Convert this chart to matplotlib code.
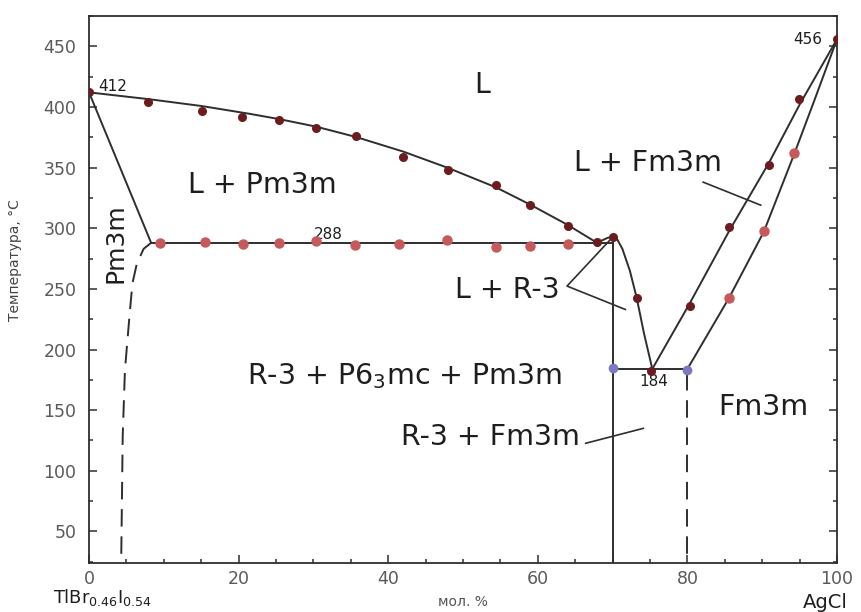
import matplotlib
matplotlib.use("Agg")
import matplotlib.pyplot as plt
from matplotlib.ticker import MultipleLocator, FuncFormatter

plt.rcParams['font.family'] = ['DejaVu Sans']

# experimental points (mol. % AgCl, temperature C)
liq_x = [0, 7.85, 15.1, 20.5, 25.4, 30.4, 35.7, 42.0, 48.0, 54.4, 59.0, 64.0, 67.9, 70.0, 73.2, 75.1]
liq_t = [412, 404, 396.5, 392, 389.6, 383, 376, 358.6, 348, 335.5, 319.5, 301.7, 288.3, 293, 242.5, 182]
fm_liq_x = [80.3, 85.6, 90.9, 94.9, 100]
fm_liq_t = [236, 300.6, 352, 406.6, 456]
eut_x = [9.5, 15.5, 20.6, 25.4, 30.3, 35.6, 41.5, 47.9, 54.4, 58.9, 64.0]
eut_t = [287.5, 288.5, 287, 288, 289.4, 286, 286.7, 290, 284.7, 285.5, 286.7]
fm_sol_x = [85.6, 90.2, 94.2]
fm_sol_t = [242.7, 298, 362]
blue_x = [70, 80]
blue_t = [184.5, 183.5]

# phase boundary curves
l_curve_x = [0, 8, 15, 21.5, 25.4, 30.4, 35.7, 42, 48, 54.4, 59, 64, 67.9]
l_curve_t = [412, 406.4, 400.8, 394.3, 390, 383.7, 375.2, 363.2, 349.7, 333.7, 319.4, 302.7, 288]
r3_curve_x = [67.9, 69.3, 70, 70.6, 71.3, 72.3, 73.2, 74.2, 75.3]
r3_curve_t = [288, 292, 293, 291, 283, 265, 243, 213, 184]
fm_liq_curve_x = [75.3, 80.3, 85.6, 90.9, 95, 100]
fm_liq_curve_t = [184, 238, 298, 354, 402, 456]
fm_sol_curve_x = [80, 85.6, 90.2, 94.2, 97, 100]
fm_sol_curve_t = [184, 243, 297, 360, 406, 456]
pm_sol_x = [0, 8.3]
pm_sol_t = [412, 288]
pm_solvus_x = [8.3, 7.3, 6.4, 5.8, 5.4, 4.8, 4.5, 4.3]
pm_solvus_t = [288, 283, 271, 254.5, 227, 183, 128, 25]
eut_line_x = [8.3, 70]
eut_line_t = [288, 288]
low_line_x = [70, 80]
low_line_t = [184, 184]

x_ticks = [0, 20, 40, 60, 80, 100]
y_ticks = [50, 100, 150, 200, 250, 300, 350, 400, 450]

dark = '#6b1c1e'
pink = '#c45a5c'
blue = '#7d78c2'
line_c = '#2e2e2e'

fig = plt.figure(figsize=(8.61, 6.12), dpi=100)
ax = fig.add_axes([0.1034, 0.0801, 0.8688, 0.8938])

lw = 1.4
ax.plot(l_curve_x, l_curve_t, color=line_c, lw=lw)
ax.plot(r3_curve_x, r3_curve_t, color=line_c, lw=lw)
ax.plot(fm_liq_curve_x, fm_liq_curve_t, color=line_c, lw=lw)
ax.plot(fm_sol_curve_x, fm_sol_curve_t, color=line_c, lw=lw)
ax.plot(pm_sol_x, pm_sol_t, color=line_c, lw=lw)
ax.plot(eut_line_x, eut_line_t, color=line_c, lw=lw)
ax.plot(low_line_x, low_line_t, color=line_c, lw=lw)
ax.plot([70, 70], [293, 24], color=line_c, lw=lw)
ax.plot(pm_solvus_x, pm_solvus_t, color=line_c, lw=lw, dashes=(9, 5))
ax.plot([80, 80], [181, 24], color=line_c, lw=lw, dashes=(9, 5))

# leader lines
ax.plot([82.1, 89.8], [338, 319], color=line_c, lw=1.2)
ax.plot([69.6, 63.9, 71.7], [290, 252.3, 233], color=line_c, lw=1.2)
ax.plot([66.4, 74.1], [122.7, 135], color=line_c, lw=1.2)

ax.plot(eut_x, eut_t, 'o', color=pink, ms=6.5, zorder=5)
ax.plot(fm_sol_x, fm_sol_t, 'o', color=pink, ms=6.5, zorder=5)
ax.plot(liq_x, liq_t, 'o', color=dark, ms=5.5, zorder=6)
ax.plot(fm_liq_x, fm_liq_t, 'o', color=dark, ms=5.5, zorder=6)
ax.plot(blue_x, blue_t, 'o', color=blue, ms=6, zorder=6)

big = 20.5
tc = '#1e1e1e'
ax.text(52.5, 418, 'L', fontsize=big, color=tc, ha='center', va='center')
ax.text(23.2, 336, 'L + Pm3m', fontsize=big, color=tc, ha='center', va='center')
ax.text(74.7, 354, 'L + Fm3m', fontsize=big, color=tc, ha='center', va='center')
ax.text(62.9, 249, 'L + R-3', fontsize=big, color=tc, ha='right', va='center')
ax.text(42.2, 178, 'R-3 + P6$_3$mc + Pm3m', fontsize=big, color=tc, ha='center', va='center')
ax.text(65.6, 128, 'R-3 + Fm3m', fontsize=big, color=tc, ha='right', va='center')
ax.text(90.1, 153, 'Fm3m', fontsize=big, color=tc, ha='center', va='center')
ax.text(3.5, 288, 'Pm3m', fontsize=18, color=tc, ha='center', va='center', rotation=90)

small = 11
ax.text(1.2, 417, '412', fontsize=small, color=tc, ha='left', va='center')
ax.text(30.0, 295, '288', fontsize=small, color=tc, ha='left', va='center')
ax.text(98.0, 456, '456', fontsize=small, color=tc, ha='right', va='center')
ax.text(75.5, 174, '184', fontsize=small, color=tc, ha='center', va='center')

ax.set_xlim(0, 100)
ax.set_ylim(24, 475)
ax.set_xticks(x_ticks)
ax.set_yticks(y_ticks)
ax.xaxis.set_minor_locator(MultipleLocator(5))
ax.yaxis.set_minor_locator(MultipleLocator(25))
ax.xaxis.set_major_formatter(FuncFormatter(lambda v, p: '%d' % v))
ax.tick_params(axis='both', which='both', direction='in', colors=line_c,
               labelcolor='#5a5a5a', labelsize=12.5, width=1.1)
ax.tick_params(axis='y', which='both', right=True)
ax.tick_params(which='major', length=6)
ax.tick_params(which='minor', length=3)
ax.tick_params(axis='x', pad=5)
ax.tick_params(axis='y', pad=9)
for s in ax.spines.values():
    s.set_color(line_c)
    s.set_linewidth(1.3)

fig.text(15 / 861, 1 - 260 / 612, 'Температура, °С', rotation=90, fontsize=10,
         color='#444444', ha='center', va='center')
fig.text(463 / 861, 1 - 602 / 612, 'мол. %', fontsize=10, color='#555555',
         ha='center', va='center')
fig.text(103 / 861, 1 - 603 / 612, 'TlBr$_{0.46}$I$_{0.54}$', fontsize=13,
         color=tc, ha='center', va='baseline')
fig.text(825 / 861, 1 - 602 / 612, 'AgCl', fontsize=14, color=tc,
         ha='center', va='center')

fig.savefig('out.png', dpi=100)
